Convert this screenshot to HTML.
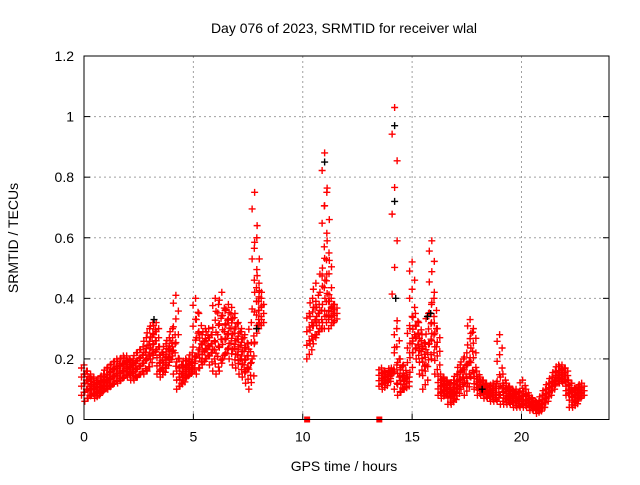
<!DOCTYPE html>
<html><head><meta charset="utf-8"><style>
body{margin:0;background:#fff;}
svg text{font-family:"Liberation Sans",sans-serif;font-size:14px;fill:#000;}
</style></head><body>
<svg id="c" width="640" height="480">
<text x="344" y="33" text-anchor="middle">Day 076 of 2023, SRMTID for receiver wlal</text>
<text x="344" y="471" text-anchor="middle">GPS time / hours</text>
<text transform="translate(18,238) rotate(-90)" text-anchor="middle">SRMTID / TECUs</text>
<g id="grid"></g><g id="marks"></g><g id="axes"></g>
</svg>
<script>
const xTicks=[0,5,10,15,20];
const yTicks=[0,0.2,0.4,0.6,0.8,1,1.2];
const yTickLabels=["0","0.2","0.4","0.6","0.8","1","1.2"];
const times=[0,0.15,0.3,0.45,0.6,0.75,0.9,1.05,1.2,1.35,1.5,1.65,1.8,1.95,2.1,2.25,2.4,2.55,2.7,2.85,3.0,3.15,3.3,3.45,3.6,3.75,3.9,4.05,4.2,4.35,4.5,4.65,4.8,4.95,5.1,5.25,5.4,5.55,5.7,5.85,6.0,6.15,6.3,6.45,6.6,6.75,6.9,7.05,7.2,7.35,7.5,7.65,7.8,7.9,8.0,8.1,
10.3,10.45,10.6,10.75,10.9,11.0,11.1,11.2,11.3,11.45,
13.6,13.75,13.9,14.05,14.2,14.3,14.45,14.6,14.75,14.9,15.0,15.15,15.3,15.45,15.6,15.75,15.9,16.0,16.15,16.3,16.45,16.6,16.75,16.9,17.05,17.2,17.35,17.5,17.65,17.8,17.95,18.1,18.25,18.4,18.55,18.7,18.85,19.0,19.15,19.3,19.45,19.6,19.75,19.9,20.05,20.2,20.35,20.5,20.65,20.8,20.95,21.1,21.25,21.4,21.55,21.7,21.85,22.0,22.15,22.3,22.45,22.6,22.75];
const lo=[0.08,0.06,0.07,0.08,0.07,0.08,0.09,0.1,0.1,0.11,0.12,0.12,0.13,0.14,0.14,0.13,0.13,0.14,0.15,0.15,0.16,0.2,0.22,0.15,0.14,0.16,0.18,0.2,0.15,0.1,0.11,0.13,0.14,0.15,0.17,0.15,0.17,0.19,0.2,0.18,0.16,0.15,0.16,0.2,0.22,0.2,0.18,0.17,0.15,0.14,0.12,0.1,0.2,0.25,0.3,0.3,
0.2,0.25,0.25,0.28,0.3,0.3,0.3,0.32,0.3,0.32,
0.11,0.1,0.12,0.15,0.15,0.1,0.08,0.09,0.1,0.14,0.22,0.22,0.2,0.15,0.1,0.18,0.25,0.2,0.15,0.08,0.07,0.08,0.05,0.05,0.07,0.1,0.1,0.08,0.12,0.14,0.1,0.08,0.08,0.07,0.07,0.06,0.06,0.06,0.05,0.05,0.05,0.05,0.04,0.04,0.04,0.04,0.04,0.03,0.03,0.02,0.03,0.05,0.07,0.09,0.11,0.12,0.12,0.12,0.08,0.04,0.04,0.06,0.07];
const hi=[0.18,0.16,0.15,0.14,0.12,0.14,0.15,0.17,0.18,0.19,0.2,0.2,0.21,0.21,0.2,0.2,0.22,0.23,0.24,0.27,0.3,0.32,0.32,0.24,0.22,0.25,0.27,0.3,0.41,0.2,0.18,0.2,0.2,0.22,0.4,0.35,0.28,0.3,0.3,0.28,0.4,0.38,0.42,0.36,0.38,0.37,0.35,0.32,0.3,0.28,0.25,0.32,0.75,0.6,0.45,0.4,
0.35,0.4,0.45,0.38,0.5,0.88,0.75,0.55,0.4,0.38,
0.17,0.16,0.15,0.17,1.03,0.3,0.2,0.18,0.15,0.3,0.52,0.35,0.32,0.28,0.25,0.35,0.59,0.4,0.3,0.15,0.14,0.13,0.12,0.13,0.15,0.18,0.2,0.22,0.33,0.3,0.16,0.14,0.13,0.12,0.11,0.12,0.12,0.28,0.15,0.12,0.11,0.1,0.1,0.09,0.13,0.1,0.08,0.07,0.06,0.06,0.08,0.1,0.12,0.14,0.16,0.18,0.18,0.17,0.13,0.12,0.1,0.11,0.12];
const blackT=[14.2,14.2,14.25,15.7,15.85,3.2,7.9,18.2,11.0];
const blackV=[0.72,0.97,0.4,0.34,0.35,0.33,0.3,0.1,0.85];
const zeroT=[10.2,13.5];
const NS="http://www.w3.org/2000/svg";
const L=84,R=609,T=56,B=419.5;
const X=t=>L+(R-L)*t/24, Y=v=>B-(B-T)*v/1.2;
function el(tag,attrs,parent){const e=document.createElementNS(NS,tag);for(const k in attrs)e.setAttribute(k,attrs[k]);parent.appendChild(e);return e;}
const grid=document.getElementById('grid'),marks=document.getElementById('marks'),axes=document.getElementById('axes');
xTicks.forEach(t=>{if(t>0){const g=el('line',{x1:X(t),x2:X(t),y1:T,y2:B,stroke:'#a0a0a0','stroke-dasharray':'2,3'},grid);

}
const tk=el('line',{x1:X(t),x2:X(t),y1:B,y2:B-6,stroke:'#000'},axes);


const tx=el('text',{x:X(t),y:B+22,'text-anchor':'middle'},axes);tx.textContent=t;

});
yTicks.forEach((v,i)=>{if(v>0&&v<1.2){const g=el('line',{x1:L,x2:R,y1:Y(v),y2:Y(v),stroke:'#a0a0a0','stroke-dasharray':'2,3'},grid);

}
const tk=el('line',{x1:L,x2:L+6,y1:Y(v),y2:Y(v),stroke:'#000'},axes);


const tk2=el('line',{x1:R,x2:R-6,y1:Y(v),y2:Y(v),stroke:'#000'},axes);


const tx=el('text',{x:L-10,y:Y(v)+5,'text-anchor':'end'},axes);tx.textContent=yTickLabels[i];

});
const fr=el('rect',{x:L,y:T,width:R-L,height:B-T,fill:'none',stroke:'#000'},axes);


function plus(x,y,c){const p=el('path',{d:`M${x-3.5},${y}h7M${x},${y-3.5}v7`,stroke:c,'stroke-width':1.4},marks);

}
times.forEach((t,i)=>{for(let k=0;k<=10;k++){const v=lo[i]+(hi[i]-lo[i])*k/10;const dx=(k%3-1)*2.5;plus(X(t)+dx,Y(v),'#f00');}});
blackT.forEach((t,i)=>plus(X(t),Y(blackV[i]),'#000'));
zeroT.forEach(t=>{const r=el('rect',{x:X(t)-3,y:B-3,width:6,height:6,fill:'#f00'},marks);

});
</script>
</body></html>
